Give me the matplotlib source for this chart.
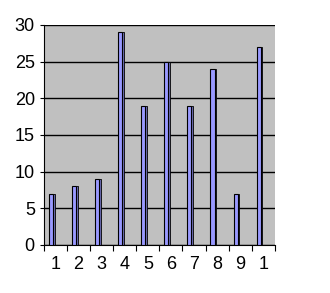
import matplotlib
matplotlib.use('Agg')
import matplotlib.pyplot as plt
import numpy as np

# values
categories = ['1', '2', '3', '4', '5', '6', '7', '8', '9', '1']
values = [7, 8, 9, 29, 19, 25, 19, 24, 7, 27]
y_ticks = [0, 5, 10, 15, 20, 25, 30]

plt.rcParams['font.family'] = ['Liberation Sans', 'DejaVu Sans']

fig = plt.figure(figsize=(3.3, 2.93), dpi=100)
ax = fig.add_axes([0.133, 0.164, 0.70, 0.751])
ax.set_facecolor('#C0C0C0')

x = np.arange(len(values))
# darker side face for the 3D look
ax.bar(x - 0.08, values, width=0.08, color='#6A6AB0', edgecolor='black', linewidth=0.6, zorder=2)
# front face of each column
ax.bar(x - 0.2, values, width=0.18, color='#9999FF', edgecolor='black', linewidth=0.8, zorder=3)

ax.set_xlim(-0.5, len(values) - 0.5)
ax.set_ylim(0, 30)
ax.set_yticks(y_ticks)
ax.yaxis.grid(True, color='black', linewidth=1.0)
ax.set_axisbelow(True)

# category labels in the middle, ticks between categories
ax.set_xticks(x)
ax.set_xticklabels(categories)
ax.set_xticks(np.arange(-0.5, len(values), 1), minor=True)
ax.tick_params(axis='x', which='major', length=0, pad=8, labelsize=13)
ax.tick_params(axis='x', which='minor', length=4, width=0.8)
ax.tick_params(axis='y', length=3, labelsize=13)

ax.spines['top'].set_visible(False)
ax.spines['right'].set_visible(False)

plt.savefig('out.png', dpi=100)
